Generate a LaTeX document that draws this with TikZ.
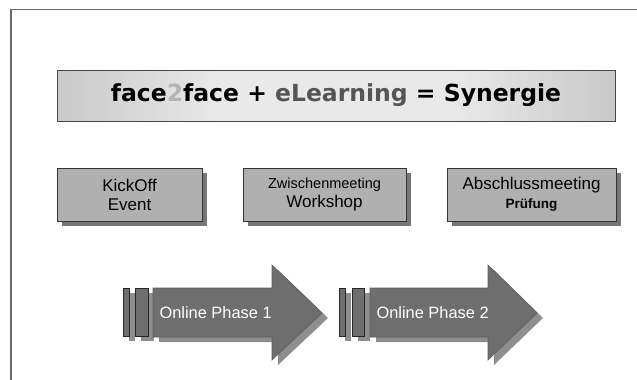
\documentclass[tikz,border=0pt]{standalone}
\usepackage{fontspec}
\setmainfont{Liberation Sans}
\newfontfamily\titlefont{DejaVu Sans}
\usetikzlibrary{shadows}
\definecolor{boxfill}{HTML}{B0B0B0}
\definecolor{boxshadow}{HTML}{767676}
\definecolor{arrowfill}{HTML}{6E6E6E}
\definecolor{arrowshadow}{HTML}{8E8E8E}
\definecolor{edge}{HTML}{333333}
\definecolor{framecol}{HTML}{6A6A6A}
\definecolor{elcol}{HTML}{555555}
\definecolor{twocol}{HTML}{B4B4B4}
\pgfdeclarehorizontalshading{hglow}{100bp}{color(0bp)=(gray!80); color(20bp)=(gray!48); color(40bp)=(white); color(60bp)=(white); color(80bp)=(gray!48); color(100bp)=(gray!72)}
\tikzset{
  phasebox/.style={draw=edge, line width=0.8pt, fill=boxfill, minimum height=53pt, align=center,
    font=\fontsize{17}{19}\selectfont,
    drop shadow={shadow xshift=5pt, shadow yshift=-5pt, fill=boxshadow, opacity=1}},
  arrowbody/.style={fill=arrowfill, draw=edge!80, line width=0.6pt},
  arrowshad/.style={fill=arrowshadow},
  barstyle/.style={fill=arrowfill, draw=black!85, line width=0.8pt},
  phasetext/.style={text=white, font=\fontsize{16.4}{18}\selectfont, anchor=west}
}
\begin{document}
\begin{tikzpicture}[x=1pt,y=-1pt]
\useasboundingbox (0,0) rectangle (637,380);
\fill[white] (0,0) rectangle (637,380);
% frame
\draw[framecol, line width=1.6pt] (638,9.5) -- (10.8,9.5) -- (10.8,381);
% title
\node[draw=edge!90, line width=0.9pt, shading=hglow, minimum width=558pt, minimum height=51pt, inner sep=0pt,
  path picture={\shade[top color=gray!55, middle color=white, bottom color=gray!55, opacity=0.3]
    (path picture bounding box.south west) rectangle (path picture bounding box.north east);}]
  (title) at (336,95.5) {\titlefont\bfseries\fontsize{23.5}{26}\selectfont face{\color{twocol}2}face + {\color{elcol}eLearning} = Synergie};
% phase boxes
\node[phasebox, minimum width=145pt] (kick) at (129.5,194.5) {KickOff\\Event};
\node[phasebox, minimum width=163pt] (zwi) at (324.5,194.5) {{\fontsize{14.5}{17}\selectfont Zwischenmeeting}\\Workshop};
\node[phasebox, minimum width=169pt] (absch) at (531.5,194.5) {Abschlussmeeting\\{\fontsize{13.5}{17}\selectfont\bfseries Prüfung}};
% arrow 1
\begin{scope}[shift={(6,5)}]
  \fill[arrowshad] (123,288) rectangle (129,336);
  \fill[arrowshad] (135,288) rectangle (148,336);
  \fill[arrowshad] (153,288) -- (272,288) -- (272,265) -- (322,313) -- (272,360) -- (272,337) -- (153,337) -- cycle;
\end{scope}
\draw[arrowbody] (153,288) -- (272,288) -- (272,265) -- (322,313) -- (272,360) -- (272,337) -- (153,337) -- cycle;
\draw[barstyle] (123,288) rectangle (129,336);
\draw[barstyle] (135,288) rectangle (148,336);
\node[phasetext] (p1) at (156,313) {Online Phase 1};
% arrow 2
\begin{scope}[shift={(6,5)}]
  \fill[arrowshad] (339,288) rectangle (345,336);
  \fill[arrowshad] (352,288) rectangle (364,336);
  \fill[arrowshad] (370,288) -- (488,288) -- (488,265) -- (537,313) -- (488,360) -- (488,337) -- (370,337) -- cycle;
\end{scope}
\draw[arrowbody] (370,288) -- (488,288) -- (488,265) -- (537,313) -- (488,360) -- (488,337) -- (370,337) -- cycle;
\draw[barstyle] (339,288) rectangle (345,336);
\draw[barstyle] (352,288) rectangle (364,336);
\node[phasetext] (p2) at (373,313) {Online Phase 2};
\end{tikzpicture}
\end{document}
